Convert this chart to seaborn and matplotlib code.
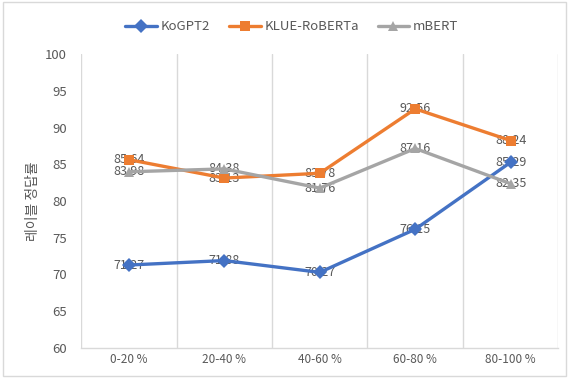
import matplotlib
matplotlib.use("Agg")
import matplotlib.pyplot as plt
import seaborn as sns
import pandas as pd

categories = ["0-20 %", "20-40 %", "40-60 %", "60-80 %", "80-100 %"]
kogpt2 = [71.27, 71.88, 70.27, 76.15, 85.29]
klue_roberta = [85.64, 83.13, 83.78, 92.56, 88.24]
mbert = [83.98, 84.38, 81.76, 87.16, 82.35]
y_ticks = [60, 65, 70, 75, 80, 85, 90, 95, 100]

series = {"KoGPT2": kogpt2, "KLUE-RoBERTa": klue_roberta, "mBERT": mbert}
rows = []
for name, vals in series.items():
    for i, (cat, v) in enumerate(zip(categories, vals)):
        rows.append({"model": name, "pos": i, "cat": cat, "score": v})
df = pd.DataFrame(rows)

sns.set_style("white")
plt.rcParams["font.family"] = ["Noto Sans CJK KR", "DejaVu Sans"]

palette = {"KoGPT2": "#4472C4", "KLUE-RoBERTa": "#ED7D31", "mBERT": "#A5A5A5"}
markers = {"KoGPT2": "D", "KLUE-RoBERTa": "s", "mBERT": "^"}
text_col = "#595959"

fig = plt.figure(figsize=(5.69, 3.78), dpi=100)
ax = fig.add_axes([0.1424, 0.0802, 0.8391, 0.7761])

sns.lineplot(data=df, x="pos", y="score", hue="model", style="model",
             palette=palette, markers=markers, dashes=False, linewidth=2.4,
             markersize=7.5, markeredgewidth=0, ax=ax, zorder=3, sort=False)

# value labels centred on each point
for name, vals in series.items():
    for i, v in enumerate(vals):
        ax.text(i, v, f"{v:.2f}", ha="center", va="center", fontsize=9,
                color=text_col, zorder=2)

ax.set_xlim(-0.5, len(categories) - 0.5)
ax.set_ylim(60, 100)
ax.set_yticks(y_ticks)
ax.set_yticklabels([str(t) for t in y_ticks], color=text_col, fontsize=9.5)
ax.set_xticks(range(len(categories)))
ax.set_xticklabels(categories, color=text_col, fontsize=8.5)
ax.tick_params(axis="y", length=0, pad=10)
ax.tick_params(axis="x", length=0, pad=4)
ax.set_xlabel("")
ax.set_ylabel("레이블 정답률", color=text_col, fontsize=10, labelpad=4)

# category boundary lines
for b in [x - 0.5 for x in range(len(categories) + 1)]:
    ax.axvline(b, color="#D9D9D9", linewidth=1, zorder=1)
for s in ["top", "left", "right"]:
    ax.spines[s].set_visible(False)
ax.spines["bottom"].set_color("#D9D9D9")
ax.spines["bottom"].set_linewidth(1)

handles, labels = ax.get_legend_handles_labels()
ax.legend(handles, labels, loc="center", bbox_to_anchor=(292 / 569, 1 - 27 / 378),
          bbox_transform=fig.transFigure, ncol=3, frameon=False, fontsize=9.5,
          handlelength=2.4, columnspacing=1.4, handletextpad=0.3,
          labelcolor=text_col)

# chart border
fig.patches.append(plt.Rectangle((0.006, 0.004), 0.988, 0.99, transform=fig.transFigure,
                                 fill=False, edgecolor="#D9D9D9", linewidth=1))

fig.savefig("out.png", dpi=100)
